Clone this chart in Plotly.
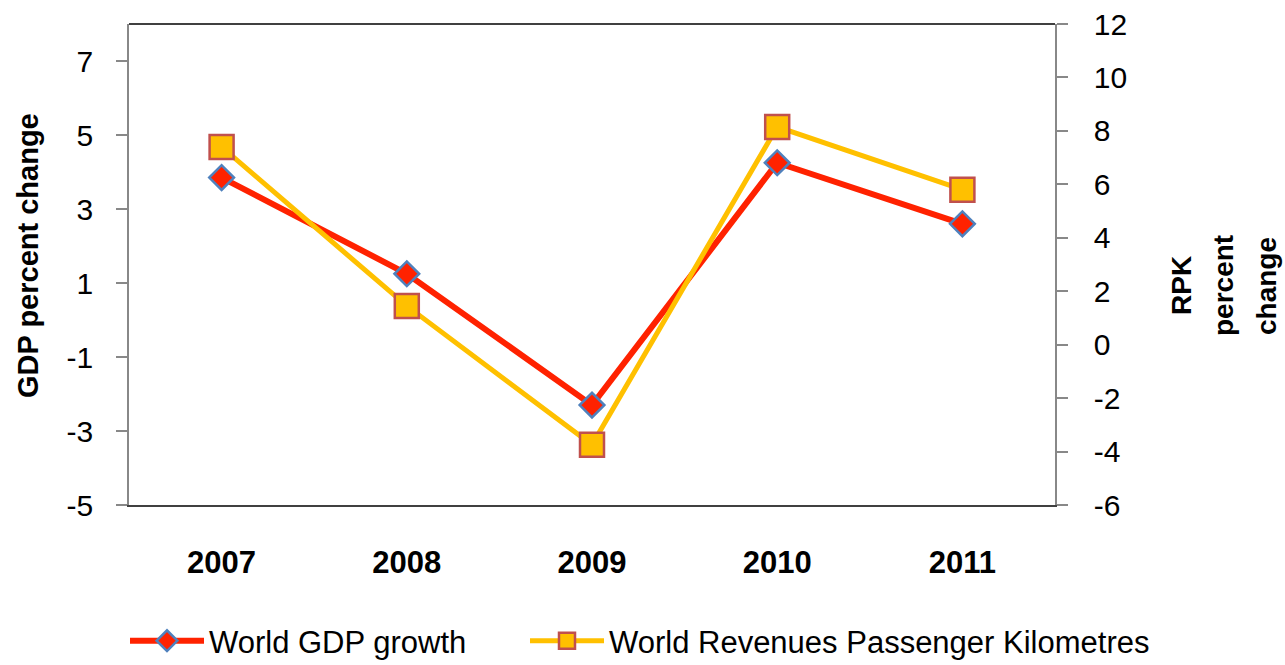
import plotly.graph_objects as go

years = ["2007", "2008", "2009", "2010", "2011"]
gdp_growth = [3.85, 1.25, -2.3, 4.25, 2.6]
rpk_growth = [7.4, 1.45, -3.75, 8.15, 5.8]

left_ticks = [-5, -3, -1, 1, 3, 5, 7]
right_ticks = [-6, -4, -2, 0, 2, 4, 6, 8, 10, 12]

FONT = "Liberation Sans, Arial"

L, R, T, B = 129, 1055, 24, 505  # plot area in pixels
W, H = 1285, 665

def px_x(px):
    return (px - L) / (R - L)

def px_y(py):
    return (B - py) / (B - T)

fig = go.Figure()
fig.add_trace(go.Scatter(
    x=years, y=gdp_growth, name="World GDP growth", mode="lines+markers",
    line=dict(color="#FF2200", width=6),
    marker=dict(symbol="diamond", size=19, color="#FF2200",
                line=dict(color="#4F81BD", width=2.5)),
    yaxis="y", legend="legend"))
fig.add_trace(go.Scatter(
    x=years, y=rpk_growth, name="World Revenues Passenger Kilometres", mode="lines+markers",
    line=dict(color="#FFC000", width=5),
    marker=dict(symbol="square", size=24, color="#FFC000",
                line=dict(color="#C0504D", width=2.5)),
    yaxis="y2", legend="legend2"))

legend_common = dict(orientation="h", xanchor="left", y=px_y(641), yanchor="middle",
                     font=dict(family=FONT, size=31), bgcolor="rgba(0,0,0,0)",
                     itemwidth=74)

fig.update_layout(
    width=W, height=H,
    margin=dict(l=L, r=W - R, t=T, b=H - B, autoexpand=False),
    paper_bgcolor="white", plot_bgcolor="white",
    font=dict(family=FONT, size=28, color="black"),
    showlegend=True,
    legend=dict(x=px_x(125), **legend_common),
    legend2=dict(x=px_x(525), **legend_common),
    xaxis=dict(type="category", range=[-0.5, 4.5], showline=True, linecolor="#404040", linewidth=2,
               ticks="outside", ticklen=29, tickcolor="rgba(0,0,0,0)",
               tickfont=dict(family=FONT, size=31, color="black", weight="bold"),
               showgrid=False, zeroline=False, automargin=False),
    yaxis=dict(range=[-5, 8], tickvals=left_ticks, ticktext=[str(v) for v in left_ticks],
               showline=True, linecolor="#888888", linewidth=1.5,
               ticks="outside", ticklen=11, tickcolor="#888888", tickwidth=1.5,
               ticklabelstandoff=17, automargin=False,
               tickfont=dict(family=FONT, size=30, color="black"),
               showgrid=False, zeroline=False),
    yaxis2=dict(range=[-6, 12], tickvals=right_ticks, ticktext=[str(v) for v in right_ticks],
                overlaying="y", side="right",
                showline=True, linecolor="#888888", linewidth=1.5,
                ticks="outside", ticklen=11, tickcolor="#888888", tickwidth=1.5,
                ticklabelstandoff=20, automargin=False,
                tickfont=dict(family=FONT, size=30, color="black"),
                showgrid=False, zeroline=False),
)

# top border of the plot area
fig.add_shape(type="line", xref="paper", yref="paper", x0=0, x1=1, y0=1, y1=1,
              line=dict(color="#404040", width=2))

# left axis title
fig.add_annotation(text="<b>GDP percent change</b>", xref="paper", yref="paper",
                   x=px_x(28), y=px_y(256), xanchor="center", yanchor="middle",
                   textangle=-90, showarrow=False,
                   font=dict(family=FONT, size=29, color="black"))

# right axis title (three stacked rotated lines)
for word, px in [("RPK", 1182), ("percent", 1224), ("change", 1267)]:
    fig.add_annotation(text="<b>" + word + "</b>", xref="paper", yref="paper",
                       x=px_x(px), y=px_y(286),
                       xanchor="center", yanchor="middle", textangle=-90, showarrow=False,
                       font=dict(family=FONT, size=28, color="black"))

fig.write_html("out.html", config={"displayModeBar": False},
               post_script="document.body.style.margin='0';")
